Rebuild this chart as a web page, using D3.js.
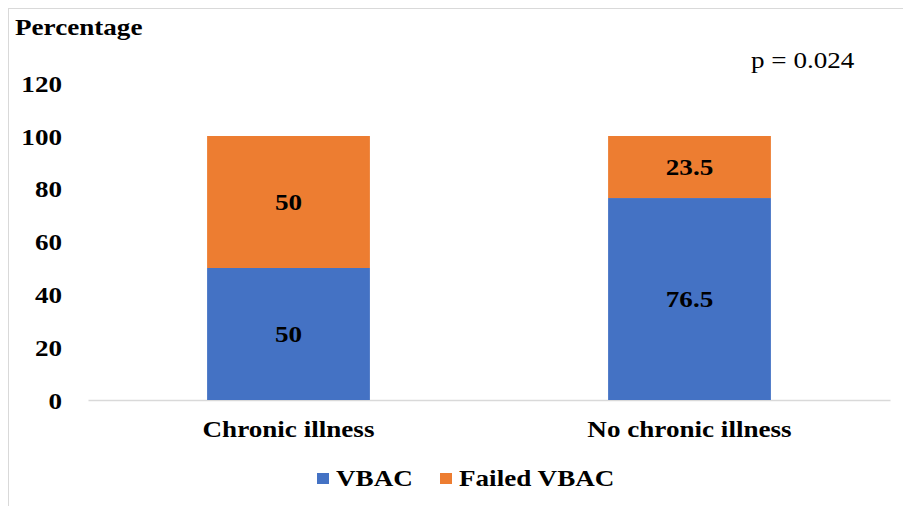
<!DOCTYPE html>
<html><head><meta charset="utf-8">
<script src="https://cdn.jsdelivr.net/npm/d3@7"></script>
<style>body{margin:0;background:#fff}svg{display:block}</style>
</head><body>
<svg id="c" width="903" height="506"></svg>
<script>
const categories = ["Chronic illness", "No chronic illness"];
const seriesNames = ["VBAC", "Failed VBAC"];
const vbac = [50, 76.5];
const failedVbac = [50, 23.5];
const yTicks = [0, 20, 40, 60, 80, 100, 120];
const colors = ["#4472C4", "#ED7D31"];

const svg = d3.select("#c");
const font = "Liberation Serif";
const FS = 24;          // font size
const SX = "scale(1.13,1)"; // horizontal stretch of the reference typography

svg.append("rect").attr("x", 8.5).attr("y", 8.5).attr("width", 900).attr("height", 510)
  .attr("fill", "none").attr("stroke", "#d9d9d9").attr("stroke-width", 1);

const x = d3.scaleBand().domain(categories).range([88, 890]).paddingInner(0.594).paddingOuter(0.297);
const y = d3.scaleLinear().domain([0, 120]).range([400, 83.2]);

const data = categories.map((c, i) => ({cat: c, VBAC: vbac[i], "Failed VBAC": failedVbac[i]}));
const stacked = d3.stack().keys(seriesNames)(data);

function styleText(sel, bold) {
  sel.attr("font-family", font).attr("font-size", FS).attr("font-weight", bold ? "bold" : "normal")
    .attr("fill", "#000").attr("transform", SX);
}

// y axis labels
const yAxis = d3.axisLeft(y).tickValues(yTicks).tickSize(0).tickPadding(0);
const yg = svg.append("g").attr("transform", "translate(62,0)").call(yAxis);
yg.select(".domain").remove();
yg.selectAll("text").call(styleText, true).attr("dy", "0.34em");

// x axis
const xAxis = d3.axisBottom(x).tickSize(0).tickPadding(20);
const xg = svg.append("g").attr("transform", "translate(0,400)").call(xAxis);
xg.select(".domain").attr("stroke", "#d9d9d9").attr("stroke-width", 1.5);
xg.selectAll("text").call(styleText, true);

// bars
svg.append("g").selectAll("g").data(stacked).join("g")
  .attr("fill", (d, i) => colors[i])
  .selectAll("rect").data(d => d).join("rect")
  .attr("x", d => x(d.data.cat)).attr("width", x.bandwidth())
  .attr("y", d => y(d[1])).attr("height", d => y(d[0]) - y(d[1]));

// value labels
svg.append("g").selectAll("g").data(stacked).join("g")
  .selectAll("g").data(d => d).join("g")
  .attr("transform", d => `translate(${x(d.data.cat) + x.bandwidth() / 2},${(y(d[0]) + y(d[1])) / 2})`)
  .append("text").attr("dy", "0.34em").attr("text-anchor", "middle")
  .call(styleText, true)
  .text(d => d3.format("")(d[1] - d[0]));

// axis title
svg.append("g").attr("transform", "translate(15,35)")
  .append("text").call(styleText, true).text("Percentage");

// p value
svg.append("g").attr("transform", "translate(751,68)")
  .append("text").call(styleText, false).text("p = 0.024");

// legend
const legend = svg.append("g").attr("transform", "translate(317,479)");
const items = [{name: seriesNames[0], color: colors[0], x: 0}, {name: seriesNames[1], color: colors[1], x: 123}];
items.forEach(it => {
  legend.append("rect").attr("x", it.x).attr("y", -6).attr("width", 12).attr("height", 11).attr("fill", it.color);
  legend.append("g").attr("transform", `translate(${it.x + 19},7)`)
    .append("text").call(styleText, true).text(it.name);
});
</script>
</body></html>
